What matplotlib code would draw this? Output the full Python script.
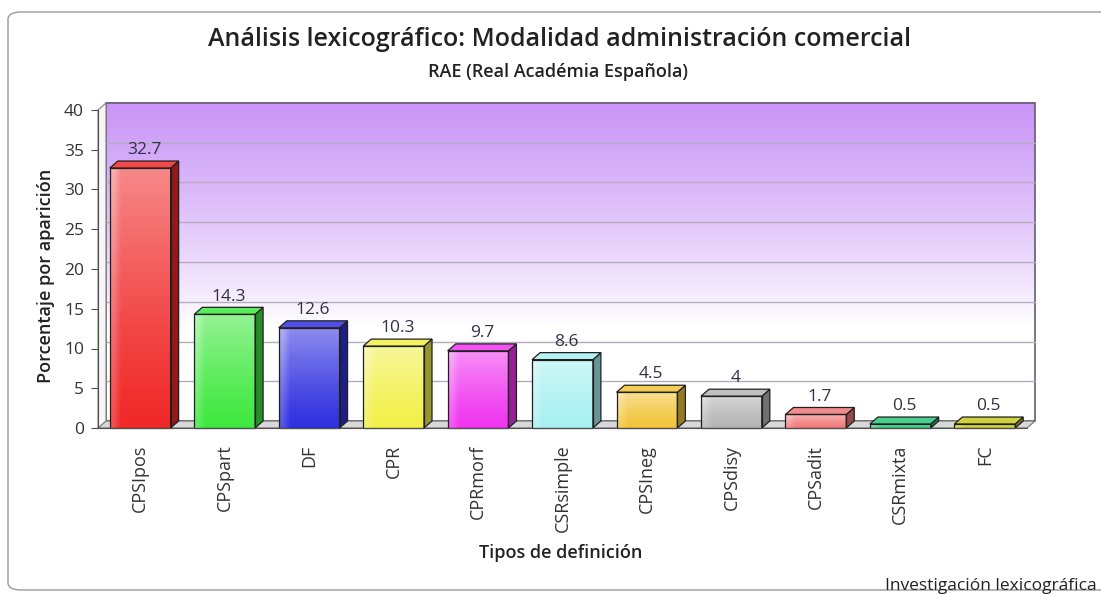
import numpy as np
import matplotlib
matplotlib.use('Agg')
import matplotlib.pyplot as plt
from matplotlib.patches import Polygon, FancyBboxPatch
from matplotlib.colors import to_rgb

plt.rcParams['font.family'] = ['Open Sans', 'DejaVu Sans']

# tipos de definición y porcentaje de aparición
tipos = ['CPSIpos', 'CPSpart', 'DF', 'CPR', 'CPRmorf', 'CSRsimple',
         'CPSIneg', 'CPSdisy', 'CPSadit', 'CSRmixta', 'FC']
valores = [32.7, 14.3, 12.6, 10.3, 9.7, 8.6, 4.5, 4, 1.7, 0.5, 0.5]
colores = ['#f02828', '#3ee83e', '#3030e0', '#f2f048', '#f035f0', '#a8f0f0',
           '#f2c438', '#b4b4b4', '#f07878', '#28c878', '#c8c81e']
yticks = [0, 5, 10, 15, 20, 25, 30, 35, 40]

titulo = 'Análisis lexicográfico: Modalidad administración comercial'
subtitulo = 'RAE (Real Académia Española)'
pie = 'Investigación lexicográfica'

W, H = 1101, 594
fig = plt.figure(figsize=(W / 100, H / 100), dpi=100)
fig.patch.set_facecolor('white')

# marco redondeado
marco = FancyBboxPatch((8 / W, 4 / H), 1110 / W, 578 / H,
                       boxstyle='round,pad=0,rounding_size=0.012',
                       transform=fig.transFigure, facecolor='none',
                       edgecolor='#9a9a9a', linewidth=1.0, zorder=-1)
fig.patches.append(marco)

x0, x1 = 98, 1027
y0, y1 = 428, 110
ax = fig.add_axes([x0 / W, (H - y0) / H, (x1 - x0) / W, (y0 - y1) / H])
ax.set_facecolor('none')

n = len(tipos)
xmin, xmax = -0.5, n - 0.5
ymin, ymax = 0, 40
dx = 8 / ((x1 - x0) / n)      # profundidad en unidades de datos
dy = 7 / ((y0 - y1) / 40.0)
ancho = 0.72


def mezcla(c, w, t):
    c = np.array(to_rgb(c))
    w = np.array(to_rgb(w))
    return tuple(c * (1 - t) + w * t)


# pared del fondo con degradado violeta
grad = np.linspace(0, 1, 256)
alfa = np.clip((grad - 0.30) / 0.70, 0, 1) ** 0.85
top_c = np.array(to_rgb('#c894f6'))
img = np.ones((256, 1, 3))
for i in range(256):
    img[i, 0] = top_c * alfa[i] + np.array([1, 1, 1]) * (1 - alfa[i])
bw = ax.imshow(img, origin='lower', aspect='auto', interpolation='bilinear',
               extent=[xmin + dx, xmax + dx, ymin + dy, ymax + dy], zorder=0)
bw.set_clip_on(False)
ax.add_patch(Polygon([(xmin + dx, ymin + dy), (xmax + dx, ymin + dy),
                      (xmax + dx, ymax + dy), (xmin + dx, ymax + dy)],
                     closed=True, facecolor='none', edgecolor='#606070',
                     linewidth=1.2, zorder=1, clip_on=False))

# rejilla en la pared del fondo
for t in yticks[1:-1]:
    ax.plot([xmin + dx, xmax + dx], [t + dy, t + dy], color='#b4adbc',
            linewidth=1.0, zorder=1, clip_on=False)

# suelo y pared izquierda
ax.add_patch(Polygon([(xmin, ymin), (xmax, ymin), (xmax + dx, ymin + dy),
                      (xmin + dx, ymin + dy)], closed=True,
                     facecolor='#d8d8d8', edgecolor='#707070', linewidth=0.8,
                     zorder=1, clip_on=False))
ax.add_patch(Polygon([(xmin, ymin), (xmin + dx, ymin + dy),
                      (xmin + dx, ymax + dy), (xmin, ymax)], closed=True,
                     facecolor='#f6f6f6', edgecolor='#808080', linewidth=0.8,
                     zorder=1, clip_on=False))

# barras en 3D
for i, (v, c) in enumerate(zip(valores, colores)):
    xl, xr = i - ancho / 2, i + ancho / 2
    g = np.linspace(0, 1, 128)
    frente = np.zeros((128, 8, 3))
    for j in range(128):
        claro = 0.45 * g[j] ** 1.2
        for k in range(8):
            borde = 0.18 if k == 0 else 0.0
            frente[j, k] = mezcla(c, 'white', min(claro + borde, 0.7))
    ax.imshow(frente, origin='lower', aspect='auto', interpolation='bilinear',
              extent=[xl, xr, 0, v], zorder=3)
    lado = mezcla(c, 'black', 0.38)
    ax.add_patch(Polygon([(xr, 0), (xr + dx, dy), (xr + dx, v + dy), (xr, v)],
                         closed=True, facecolor=lado, edgecolor='#202020',
                         linewidth=0.9, zorder=3, clip_on=False))
    tapa = mezcla(c, 'white', 0.15)
    ax.add_patch(Polygon([(xl, v), (xl + dx, v + dy), (xr + dx, v + dy), (xr, v)],
                         closed=True, facecolor=tapa, edgecolor='#202020',
                         linewidth=0.9, zorder=3, clip_on=False))
    ax.add_patch(Polygon([(xl, 0), (xr, 0), (xr, v), (xl, v)], closed=True,
                         facecolor='none', edgecolor='#202020', linewidth=0.9,
                         zorder=4, clip_on=False))
    ax.annotate(str(v), xy=(i + dx / 2, v + dy), xytext=(0, 2),
                textcoords='offset points', ha='center', va='bottom',
                fontsize=12.5, color='#303048', zorder=5)

ax.set_xlim(xmin, xmax)
ax.set_ylim(ymin, ymax)

for s in ['top', 'right']:
    ax.spines[s].set_visible(False)
ax.spines['left'].set_color('#505050')
ax.spines['bottom'].set_color('#505050')
ax.spines['left'].set_zorder(6)
ax.spines['bottom'].set_zorder(6)

ax.set_yticks(yticks)
ax.set_yticklabels([str(t) for t in yticks], fontsize=12.5, color='#333333')
ax.tick_params(axis='y', length=5, color='#505050', pad=5)
ax.set_xticks(range(n))
ax.set_xticklabels(tipos, rotation=90, fontsize=13, color='#333333')
ax.tick_params(axis='x', length=0, pad=12)

fig.text(560 / W, 1 - 40 / H, titulo, ha='center', va='center',
         fontsize=18, fontweight='semibold', color='#222222')
fig.text(558 / W, 1 - 72 / H, subtitulo, ha='center', va='center',
         fontsize=13, fontweight='semibold', color='#222222')
fig.text(46 / W, 1 - 276 / H, 'Porcentaje por aparición', rotation=90,
         ha='center', va='center', fontsize=13, fontweight='semibold',
         color='#222222')
fig.text(561 / W, 1 - 553 / H, 'Tipos de definición', ha='center',
         va='center', fontsize=13, fontweight='semibold', color='#222222')
fig.text(1097 / W, 1 - 586 / H, pie, ha='right', va='center', fontsize=12.5,
         color='#222222')

fig.savefig('out.png', dpi=100, facecolor='white')
